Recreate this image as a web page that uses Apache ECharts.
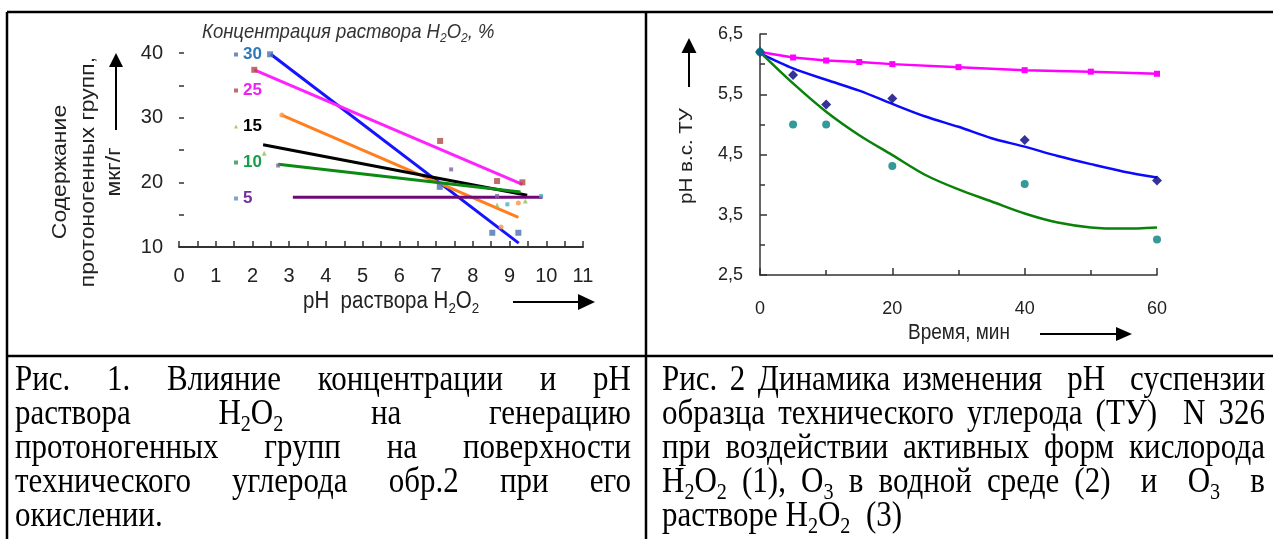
<!DOCTYPE html>
<html><head><meta charset="utf-8">
<script src="https://cdn.jsdelivr.net/npm/echarts@6/dist/echarts.min.js"></script>
<style>html,body{margin:0;padding:0;background:#fff}#c{width:1273px;height:539px}</style>
</head><body><div id="c"></div>
<script>
// ---------- Chart 1 data (pH of H2O2 solution vs protogenic groups, µg/g) ----------
const c1XTicks = [0, 11];
const c1YTicks = [10, 40];
const legendNames = ['30', '25', '15', '10', '5'];
const pts30 = [[2.48, 39.8], [7.1, 19.3], [8.53, 12.2], [9.24, 12.2]];
const pts25 = [[2.05, 37.4], [7.11, 26.4], [8.66, 20.2], [9.35, 20.0]];
const pts15 = [[2.32, 24.5], [8.66, 16.5], [9.43, 17.1]];
const pts10 = [[2.7, 22.6], [7.41, 22.0], [8.66, 17.9]];
const pts5 = [[8.94, 16.6], [9.86, 17.9]];
const pts20 = [[2.8, 30.4], [8.77, 13.1], [9.24, 16.8]];
const trend30 = [[2.5, 39.8], [9.25, 10.6]];
const trend25 = [[2.05, 37.4], [9.35, 19.7]];
const trend20 = [[2.8, 30.4], [9.24, 14.6]];
const trend15 = [[2.29, 25.8], [9.48, 18.0]];
const trend10 = [[2.7, 22.8], [9.3, 18.5]];
const trend5 = [[3.1, 17.7], [9.9, 17.7]];

// ---------- Chart 2 data (pH of carbon black suspension vs time, min) ----------
const c2XTicks = [0, 60];
const c2YTicks = [2.5, 6.5];
const timeH2O2 = [0, 5, 10, 15, 20, 30, 40, 50, 60];
const phH2O2 = [6.2, 6.11, 6.06, 6.035, 6.0, 5.95, 5.9, 5.875, 5.84];
const timeFit = [0, 5, 10, 15, 20, 25, 30, 35, 40, 45, 50, 55, 60];
const phFitBlue = [6.18, 5.93, 5.74, 5.56, 5.34, 5.13, 4.96, 4.77, 4.63, 4.475, 4.34, 4.215, 4.12];
const phFitGreen = [6.2, 5.68, 5.21, 4.82, 4.49, 4.16, 3.92, 3.72, 3.52, 3.37, 3.29, 3.27, 3.29];
const timePts = [0, 5, 10, 20, 40, 60];
const phDiamond = [6.2, 5.82, 5.33, 5.43, 4.74, 4.07];
const phCircle = [6.2, 5.0, 5.0, 4.31, 4.01, 3.09];

// ---------- Text ----------
const c1Title = 'Концентрация раствора H_2O_2, %';
const c1YTitle = ['Содержание', 'протоногенных групп,', 'мкг/г'];
const c1XTitle = 'pH  раствора H_2O_2';
const c2YTitle = 'pH в.с. ТУ';
const c2XTitle = 'Время, мин';
const capLeft = ['Рис. 1. Влияние концентрации и pH', 'раствора H_2O_2 на генерацию', 'протоногенных групп на поверхности', 'технического углерода обр.2 при его', 'окислении.'];
const capRight = ['Рис. 2 Динамика изменения  pH  суспензии', 'образца технического углерода (ТУ)  N 326', 'при воздействии активных форм кислорода', 'H_2O_2 (1), O_3 в водной среде (2)  и  O_3  в', 'растворе H_2O_2  (3)'];

const SANS = "'Liberation Sans', Arial, sans-serif";
const SERIF = "'Liberation Serif', 'Times New Roman', serif";
const STRETCH = 1.13;

const mctx = document.createElement('canvas').getContext('2d');
function measure(t, fs, fam, st, wt) { mctx.font = (st || 'normal') + ' ' + (wt || 'normal') + ' ' + fs + 'px ' + fam; return mctx.measureText(t).width; }
function parseWord(w) { const s = []; let b = ''; for (let i = 0; i < w.length; i++) { if (w[i] === '_') { if (b) { s.push({ t: b, sub: false }); b = ''; } s.push({ t: w[i + 1], sub: true }); i++; } else b += w[i]; } if (b) s.push({ t: b, sub: false }); return s; }
function textEl(t, x, y, fs, fam, color, st, wt, rot, stretch) {
  const k = stretch || 1;
  return { type: 'text', x: x, y: y, rotation: rot || 0, scaleX: rot ? k : 1, scaleY: rot ? 1 : k, silent: true, z: 10,
    style: { text: t, x: 0, y: 0, fontSize: fs, fontFamily: fam, fontStyle: st || 'normal', fontWeight: wt || 'normal', fill: color,
      textAlign: rot ? 'center' : 'left', align: rot ? 'center' : 'left', textVerticalAlign: 'middle', verticalAlign: 'middle' } };
}
function layoutLine(line, x0, x1, cy, fs, fam, justify, color, st, wt) {
  const parts = line.split(/( +)/).filter(p => p.length);
  const words = [], gaps = [];
  parts.forEach(p => { if (/^ +$/.test(p)) gaps.push(p.length); else words.push(parseWord(p)); });
  const sz = g => g.sub ? fs * 0.65 : fs;
  const ww = words.map(w => w.reduce((a, g) => a + measure(g.t, sz(g), fam, st, wt), 0));
  const total = ww.reduce((a, b) => a + b, 0);
  const units = gaps.reduce((a, b) => a + b, 0);
  const unit = (justify && units) ? (x1 - x0 - total) / units : measure(' ', fs, fam, st, wt);
  const els = []; let x = x0;
  words.forEach((w, i) => {
    let xx = x;
    w.forEach(g => { els.push(textEl(g.t, xx, g.sub ? cy + fs * 0.3 * STRETCH : cy, sz(g), fam, color, st, wt, 0, STRETCH)); xx += measure(g.t, sz(g), fam, st, wt); });
    x += ww[i] + (gaps[i] || 0) * unit;
  });
  return els;
}
function arrow(x1, y1, x2, y2, hl, hw) {
  const L = Math.hypot(x2 - x1, y2 - y1), ux = (x2 - x1) / L, uy = (y2 - y1) / L;
  const bx = x2 - ux * hl, by = y2 - uy * hl;
  return [{ type: 'line', silent: true, shape: { x1: x1, y1: y1, x2: bx, y2: by }, style: { stroke: '#000', lineWidth: 2 } },
    { type: 'polygon', silent: true, shape: { points: [[x2, y2], [bx - uy * hw / 2, by + ux * hw / 2], [bx + uy * hw / 2, by - ux * hw / 2]] }, style: { fill: '#000' } }];
}
function hline(x1, y1, x2, y2, w) { return { type: 'line', silent: true, shape: { x1: x1, y1: y1, x2: x2, y2: y2 }, style: { stroke: '#000', lineWidth: w } }; }

const CAP_FS = 31;
let g = [];
// table
g.push(hline(7, 12, 1273, 12, 2.5), hline(7, 12, 7, 539, 2.5), hline(646, 12, 646, 539, 2.5), hline(7, 356, 1273, 356, 2.5));
// captions
const capY = [381, 415, 449, 483, 517];
capLeft.forEach((l, i) => { g = g.concat(layoutLine(l, 15, 631, capY[i], CAP_FS, SERIF, i < capLeft.length - 1, '#000')); });
capRight.forEach((l, i) => { g = g.concat(layoutLine(l, 662, 1265, capY[i], CAP_FS, SERIF, i < capRight.length - 1, '#000')); });
// chart 1 texts
g = g.concat(layoutLine(c1Title, 202, 495, 32, 18.5, SANS, false, '#333', 'italic'));
const yx = [60, 88, 114];
c1YTitle.forEach((t, i) => g.push(textEl(t, yx[i], 172, 20, SANS, '#222', 'normal', 'normal', Math.PI / 2, 1.15)));
g = g.concat(layoutLine(c1XTitle, 303, 490, 302, 20.5, SANS, false, '#222'));
g = g.concat(arrow(116, 130, 116, 53, 14, 14), arrow(513, 302, 595, 302, 17, 16));
// chart 2 texts
g.push(textEl(c2YTitle, 687, 156, 19, SANS, '#222', 'normal', 'normal', Math.PI / 2, 1.08));
const c2xw = measure(c2XTitle, 19, SANS);
g.push(textEl(c2XTitle, 959 - c2xw / 2, 333, 19, SANS, '#222', 'normal', 'normal', 0, STRETCH));
g = g.concat(arrow(1040, 334, 1132, 334, 16, 14), arrow(689, 87, 689, 38, 15, 15));

const zip = (a, b) => a.map((v, i) => [v, b[i]]);
const axisCol = '#333';
function valAxis(o) {
  return Object.assign({ type: 'value', splitLine: { show: false },
    axisLine: { show: true, lineStyle: { color: axisCol, width: 2 } },
    axisTick: { show: true, inside: true, length: 6, lineStyle: { color: axisCol, width: 1.5 } },
    minorTick: { show: true, splitNumber: 2, length: 6, lineStyle: { color: axisCol, width: 1.5 } },
    axisLabel: { color: '#222', fontFamily: SANS, fontSize: 20 } }, o);
}
const trendLine = (name, data, color) => ({ name: name, type: 'line', xAxisIndex: 0, yAxisIndex: 0, data: data, symbol: 'none', lineStyle: { color: color, width: 3 }, itemStyle: { color: color }, z: 2 });
const pts = (name, data, color, sym, size) => ({ name: name, type: 'scatter', xAxisIndex: 0, yAxisIndex: 0, data: data, symbol: sym, symbolSize: size, itemStyle: { color: color }, z: 3 });

const legendStyle = [
  { name: '30', text: '#2e78b8', icon: '#4a72b0' },
  { name: '25', text: '#ee22ee', icon: '#b04a48' },
  { name: '15', text: '#000000', icon: '#9bbb59' },
  { name: '10', text: '#12a04a', icon: '#2e8f55' },
  { name: '5', text: '#7030a0', icon: '#5b8fc4' }
];

const option = {
  animation: false,
  textStyle: { fontFamily: SANS },
  grid: [
    { left: 179, top: 53, width: 404, height: 194, containLabel: false },
    { left: 760, top: 34, width: 397, height: 241, containLabel: false }
  ],
  legend: {
    orient: 'vertical', left: 229, top: 41, itemWidth: 4, itemHeight: 4, itemGap: 19, selectedMode: false,
    textStyle: { fontSize: 17, fontWeight: 'bold', fontFamily: SANS },
    data: legendStyle.map(l => ({ name: l.name, icon: l.name === '15' ? 'triangle' : 'rect', itemStyle: { color: l.icon }, textStyle: { color: l.text } }))
  },
  xAxis: [
    valAxis({ gridIndex: 0, min: c1XTicks[0], max: c1XTicks[1], interval: 1, axisLabel: { color: '#222', fontFamily: SANS, fontSize: 20, margin: 19 } }),
    valAxis({ gridIndex: 1, min: c2XTicks[0], max: c2XTicks[1], interval: 20,
      axisLine: { show: true, lineStyle: { color: axisCol, width: 1.5 } },
      axisTick: { show: true, inside: true, length: 7, lineStyle: { color: axisCol, width: 1.5 } },
      minorTick: { show: true, splitNumber: 2, length: 5, lineStyle: { color: axisCol, width: 1.5 } },
      axisLabel: { color: '#222', fontFamily: SANS, fontSize: 18, margin: 25 } })
  ],
  yAxis: [
    valAxis({ gridIndex: 0, min: c1YTicks[0], max: c1YTicks[1], interval: 10, axisLine: { show: false },
      axisTick: { show: true, inside: true, length: 5, lineStyle: { color: axisCol, width: 1.5 } },
      minorTick: { show: true, splitNumber: 2, length: 5, lineStyle: { color: axisCol, width: 1.5 } },
      axisLabel: { color: '#222', fontFamily: SANS, fontSize: 20, margin: 16 } }),
    valAxis({ gridIndex: 1, min: c2YTicks[0], max: c2YTicks[1], interval: 1,
      axisLine: { show: true, lineStyle: { color: axisCol, width: 1.5 } },
      axisTick: { show: true, inside: true, length: 7, lineStyle: { color: axisCol, width: 1.5 } },
      minorTick: { show: true, splitNumber: 2, length: 5, lineStyle: { color: axisCol, width: 1.5 } },
      axisLabel: { color: '#222', fontFamily: SANS, fontSize: 18, margin: 17, formatter: v => v.toFixed(1).replace('.', ',') } })
  ],
  graphic: { elements: g },
  series: [
    trendLine('тренд 30', trend30, '#1414ff'),
    trendLine('тренд 25', trend25, '#ff22ff'),
    trendLine('тренд 20', trend20, '#ff7f1e'),
    trendLine('тренд 15', trend15, '#000000'),
    trendLine('тренд 10', trend10, '#0c8a14'),
    trendLine('тренд 5', trend5, '#6e0a78'),
    pts('30', pts30, '#4a72b0', 'rect', 6),
    pts('25', pts25, '#b04a48', 'rect', 6),
    pts('15', pts15, '#9bbb59', 'triangle', 5),
    pts('10', pts10, '#8064a2', 'rect', 4),
    pts('5', pts5, '#4bacc6', 'rect', 4),
    pts('20', pts20, '#f79646', 'circle', 5),
    { name: 'H2O2 (1)', type: 'line', xAxisIndex: 1, yAxisIndex: 1, data: zip(timeH2O2, phH2O2), symbol: 'rect', symbolSize: 6, lineStyle: { color: '#ff00ff', width: 2.5 }, itemStyle: { color: '#ff00ff' } },
    { name: 'fit 2', type: 'line', xAxisIndex: 1, yAxisIndex: 1, data: zip(timeFit, phFitBlue), symbol: 'none', smooth: 0.3, lineStyle: { color: '#0a0aff', width: 2.5 } },
    { name: 'fit 3', type: 'line', xAxisIndex: 1, yAxisIndex: 1, data: zip(timeFit, phFitGreen), symbol: 'none', smooth: 0.3, lineStyle: { color: '#0a820a', width: 2.5 } },
    { name: 'O3 (2)', type: 'scatter', xAxisIndex: 1, yAxisIndex: 1, data: zip(timePts, phDiamond), symbol: 'diamond', symbolSize: 10, itemStyle: { color: '#000080' }, z: 4 },
    { name: 'O3+H2O2 (3)', type: 'scatter', xAxisIndex: 1, yAxisIndex: 1, data: zip(timePts, phCircle), symbol: 'circle', symbolSize: 8, itemStyle: { color: '#008080' }, z: 4 }
  ]
};
const chart = echarts.init(document.getElementById('c'), null, { renderer: 'canvas' });
chart.setOption(option);
</script>
</body></html>
